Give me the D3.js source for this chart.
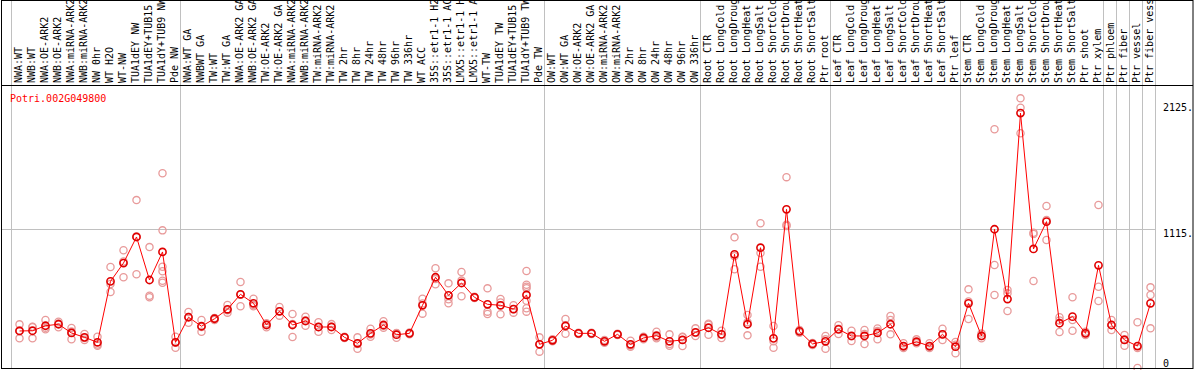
<!DOCTYPE html>
<html>
<head>
<meta charset="utf-8">
<script src="https://cdn.jsdelivr.net/npm/d3@7"></script>
<style>
  body { margin: 0; background: #fff; }
  svg { display: block; }
  text { font-family: "DejaVu Sans Mono", monospace; font-size: 10px; }
</style>
</head>
<body>
<svg id="chart"></svg>
<script>
// sample names, in plot order
const categories = [
    "NWA:WT", "NWB:WT", "NWA:OE-ARK2", "NWB:OE-ARK2", "NWA:miRNA-ARK2", "NWB:miRNA-ARK2",
    "NW 0hr", "WT H2O", "WT-NW", "TUA1dEY NW", "TUA1dEY+TUB15 NW", "TUA1dY+TUB9 NW", "Pde NW",
    "NWA:WT GA", "NWBWT GA", "TW:WT", "TW:WT GA", "NWA:OE-ARK2 GA", "NWB:OE-ARK2 GA",
    "TW:OE-ARK2", "TW:OE-ARK2 GA", "NWA:miRNA-ARK2 GA", "NWB:miRNA-ARK2 GA", "TW:miRNA-ARK2",
    "TW:miRNA-ARK2 GA", "TW 2hr", "TW 8hr", "TW 24hr", "TW 48hr", "TW 96hr", "TW 336hr",
    "WT ACC", "35S::etr1-1 H2O", "35S::etr1-1 ACC", "LMX5::etr1-1 H2O", "LMX5::etr1-1 ACC",
    "WT-TW", "TUA1dEY TW", "TUA1dEY+TUB15 TW", "TUA1dY+TUB9 TW", "Pde TW",
    "OW:WT", "OW:WT GA", "OW:OE-ARK2", "OW:OE-ARK2 GA", "OW:miRNA-ARK2", "OW:miRNA-ARK2 GA",
    "OW 2hr", "OW 8hr", "OW 24hr", "OW 48hr", "OW 96hr", "OW 336hr",
    "Root CTR", "Root LongCold", "Root LongDrought", "Root LongHeat", "Root LongSalt",
    "Root ShortCold", "Root ShortDrought", "Root ShortHeat", "Root ShortSalt", "Ptr root",
    "Leaf CTR", "Leaf LongCold", "Leaf LongDrought", "Leaf LongHeat", "Leaf LongSalt",
    "Leaf ShortCold", "Leaf ShortDrought", "Leaf ShortHeat", "Leaf ShortSalt", "Ptr leaf",
    "Stem CTR", "Stem LongCold", "Stem LongDrought", "Stem LongHeat", "Stem LongSalt",
    "Stem ShortCold", "Stem ShortDrought", "Stem ShortHeat", "Stem ShortSalt", "Ptr shoot",
    "Ptr xylem", "Ptr phloem", "Ptr fiber", "Ptr vessel", "Ptr fiber vessel"
];

// number of samples in each block between the grey dividers
const groupSizes = [13, 28, 12, 10, 10, 11, 1, 1, 1, 1];

const geneId = "Potri.002G049800";

// mean expression per sample
const meanValues = [
    297, 299, 339, 351, 281, 246, 206, 695, 842, 1051, 706, 931, 206,
    407, 335, 395, 471, 591, 519, 345, 455, 345, 377, 329, 329, 246, 198, 278,
    345, 267, 278, 503, 728, 583, 682, 567, 511, 503, 473, 586, 190,
    222, 337, 278, 278, 214, 270, 190, 241, 259, 214, 225, 286,
    323, 270, 912, 351, 965, 238, 1273, 294, 193, 214,
    310, 257, 257, 281, 351, 176, 211, 176, 270, 171,
    519, 257, 1113, 553, 2045, 955, 1174, 359, 412, 278, 824,
    345, 225, 176, 519
];

// replicate values per sample
const replicateValues = [
    [350, 300, 238], [331, 328, 238], [385, 322, 310], [371, 356, 326], [321, 292, 230],
    [273, 240, 225], [251, 188, 179], [810, 674, 610], [944, 854, 728], [1347, 1054, 752],
    [970, 580, 567], [1562, 1104, 812, 776, 700, 684], [251, 204, 163],
    [449, 409, 363], [385, 329, 291], [401, 399, 385], [505, 464, 444], [690, 588, 495],
    [556, 506, 495], [359, 350, 326], [489, 456, 420], [433, 353, 249], [411, 381, 339],
    [367, 329, 291], [352, 330, 305], [251, 246, 241], [246, 193, 155], [315, 268, 251],
    [375, 337, 323], [280, 278, 243], [285, 278, 271], [556, 517, 436], [800, 713, 671],
    [679, 551, 519], [770, 701, 575], [572, 567, 562], [639, 452, 433], [553, 525, 431],
    [503, 472, 444], [778, 668, 652, 640, 540, 479, 452], [246, 193, 131],
    [230, 222, 214], [393, 343, 275], [283, 278, 273], [283, 278, 273], [225, 214, 203],
    [275, 270, 265], [219, 180, 171], [251, 241, 231], [291, 248, 238], [270, 193, 179],
    [251, 248, 176], [318, 283, 257],
    [355, 347, 267], [299, 270, 241], [1048, 896, 792], [425, 366, 262], [1161, 922, 812],
    [337, 214, 163], [1531, 1149, 1139], [305, 294, 283], [201, 193, 185], [257, 230, 155],
    [343, 314, 273], [299, 255, 217], [305, 273, 193], [317, 296, 230], [417, 385, 270],
    [198, 170, 160], [230, 205, 198], [198, 170, 160], [315, 270, 225], [209, 186, 118],
    [631, 533, 393], [276, 257, 238], [1915, 826, 586], [626, 599, 457], [2163, 2088, 1883],
    [1085, 1075, 698], [1300, 1187, 1027], [407, 381, 289], [567, 385, 299], [290, 278, 265],
    [1308, 652, 537],
    [385, 345, 305], [265, 231, 179], [367, 161, 0], [647, 586, 318]
];

const yMax = 2230;
const tickValues = [0, 1115, 2125];
const tickLabels = ["0", "1115.", "2125."];

window.Expr = window.Expr || {};

Expr.init = function() {
    Expr.setup.initConst();
    Expr.setup.initObjects();
    Expr.core.draw();
};

Expr.setup = {
    initConst: function() {
        Expr.width = 1194;
        Expr.height = 370;
        Expr.headerBottom = 85;
        Expr.plotLeft = 11;
        Expr.step = 13;
        Expr.plotRight = Expr.plotLeft + Expr.step * categories.length;
        Expr.plotBottom = 368;
        Expr.plotTop = 90;
        Expr.maxChars = 14;
    },

    initObjects: function() {
        Expr.svg = d3.select('#chart')
                        .attr('width', Expr.width)
                        .attr('height', Expr.height);

        Expr.x = d3.scaleBand()
                    .domain(d3.range(categories.length))
                    .range([Expr.plotLeft, Expr.plotRight])
                    .padding(0);

        Expr.y = d3.scaleLinear()
                    .domain([0, yMax])
                    .range([Expr.plotBottom, Expr.plotTop]);
    }
};

Expr.helpers = {
    cx: function(i) {
        return Expr.x(i) + Expr.x.bandwidth() / 2 + 2;
    },

    groupEdges: function() {
        let edges = [0];
        groupSizes.forEach(function(n) { edges.push(edges[edges.length - 1] + n); });
        return edges;
    }
};

Expr.core = {
    draw: function() {
        Expr.core.drawGrid();
        Expr.core.drawLabels();
        Expr.core.drawAxis();
        Expr.core.drawReplicates();
        Expr.core.drawMeans();
        Expr.core.drawFrame();
    },

    drawGrid: function() {
        let svg = Expr.svg;
        let edges = Expr.helpers.groupEdges();

        svg.append('g').selectAll('line')
            .data(edges)
            .join('line')
            .attr('x1', d => (d < categories.length ? Expr.x(d) : Expr.plotRight) + 0.5)
            .attr('x2', d => (d < categories.length ? Expr.x(d) : Expr.plotRight) + 0.5)
            .attr('y1', 0)
            .attr('y2', Expr.plotBottom)
            .attr('stroke', '#c0c0c0')
            .attr('stroke-width', 1);

        svg.append('line')
            .attr('x1', 2).attr('x2', Expr.plotRight + 1)
            .attr('y1', Math.round(Expr.y(1115)) + 0.5)
            .attr('y2', Math.round(Expr.y(1115)) + 0.5)
            .attr('stroke', '#c0c0c0')
            .attr('stroke-width', 1);
    },

    drawLabels: function() {
        Expr.svg.append('g').selectAll('text')
            .data(categories)
            .join('text')
            .attr('transform', (d, i) => 'translate(' + (Expr.x(i) + 11) + ',83) rotate(-90)')
            .attr('fill', '#000')
            .text(d => d.slice(0, Expr.maxChars));

        Expr.svg.append('text')
            .attr('x', 10)
            .attr('y', 101.5)
            .attr('fill', '#ff0000')
            .text(geneId);
    },

    drawAxis: function() {
        let axis = d3.axisRight(Expr.y)
                    .tickValues(tickValues)
                    .tickSize(0)
                    .tickPadding(0)
                    .tickFormat((d, i) => tickLabels[i]);

        let g = Expr.svg.append('g')
                    .attr('transform', 'translate(1163,0)')
                    .call(axis);

        g.select('.domain').remove();
        g.selectAll('text')
            .attr('font-family', '"DejaVu Sans Mono", monospace')
            .attr('font-size', 10)
            .attr('fill', '#000')
            .attr('x', 0)
            .attr('dy', null)
            .attr('y', d => Math.min(7.5, 366 - Expr.y(d)));
    },

    drawReplicates: function() {
        let pts = [];
        replicateValues.forEach(function(reps, i) {
            reps.forEach(function(v) { pts.push({ i: i, v: v }); });
        });

        Expr.svg.append('g').selectAll('circle')
            .data(pts)
            .join('circle')
            .attr('cx', d => Expr.helpers.cx(d.i))
            .attr('cy', d => Expr.y(d.v))
            .attr('r', 3.6)
            .attr('fill', 'none')
            .attr('stroke', '#e89a9a')
            .attr('stroke-width', 1.3);
    },

    drawMeans: function() {
        let line = d3.line()
                    .x((d, i) => Expr.helpers.cx(i))
                    .y(d => Expr.y(d));

        Expr.svg.append('path')
            .datum(meanValues)
            .attr('d', line)
            .attr('fill', 'none')
            .attr('stroke', '#ff0000')
            .attr('stroke-width', 1);

        Expr.svg.append('g').selectAll('circle')
            .data(meanValues)
            .join('circle')
            .attr('cx', (d, i) => Expr.helpers.cx(i))
            .attr('cy', d => Expr.y(d))
            .attr('r', 3.6)
            .attr('fill', 'none')
            .attr('stroke', '#e00000')
            .attr('stroke-width', 1.6);
    },

    drawFrame: function() {
        let svg = Expr.svg;
        svg.append('rect')
            .attr('x', 1.5).attr('y', 0.5)
            .attr('width', Expr.width - 2.5)
            .attr('height', Expr.plotBottom)
            .attr('fill', 'none')
            .attr('stroke', '#000')
            .attr('stroke-width', 1);

        svg.append('line')
            .attr('x1', 1.5).attr('x2', Expr.width - 1)
            .attr('y1', Expr.headerBottom + 0.5)
            .attr('y2', Expr.headerBottom + 0.5)
            .attr('stroke', '#000')
            .attr('stroke-width', 1);
    }
};

Expr.init();
</script>
</body>
</html>
